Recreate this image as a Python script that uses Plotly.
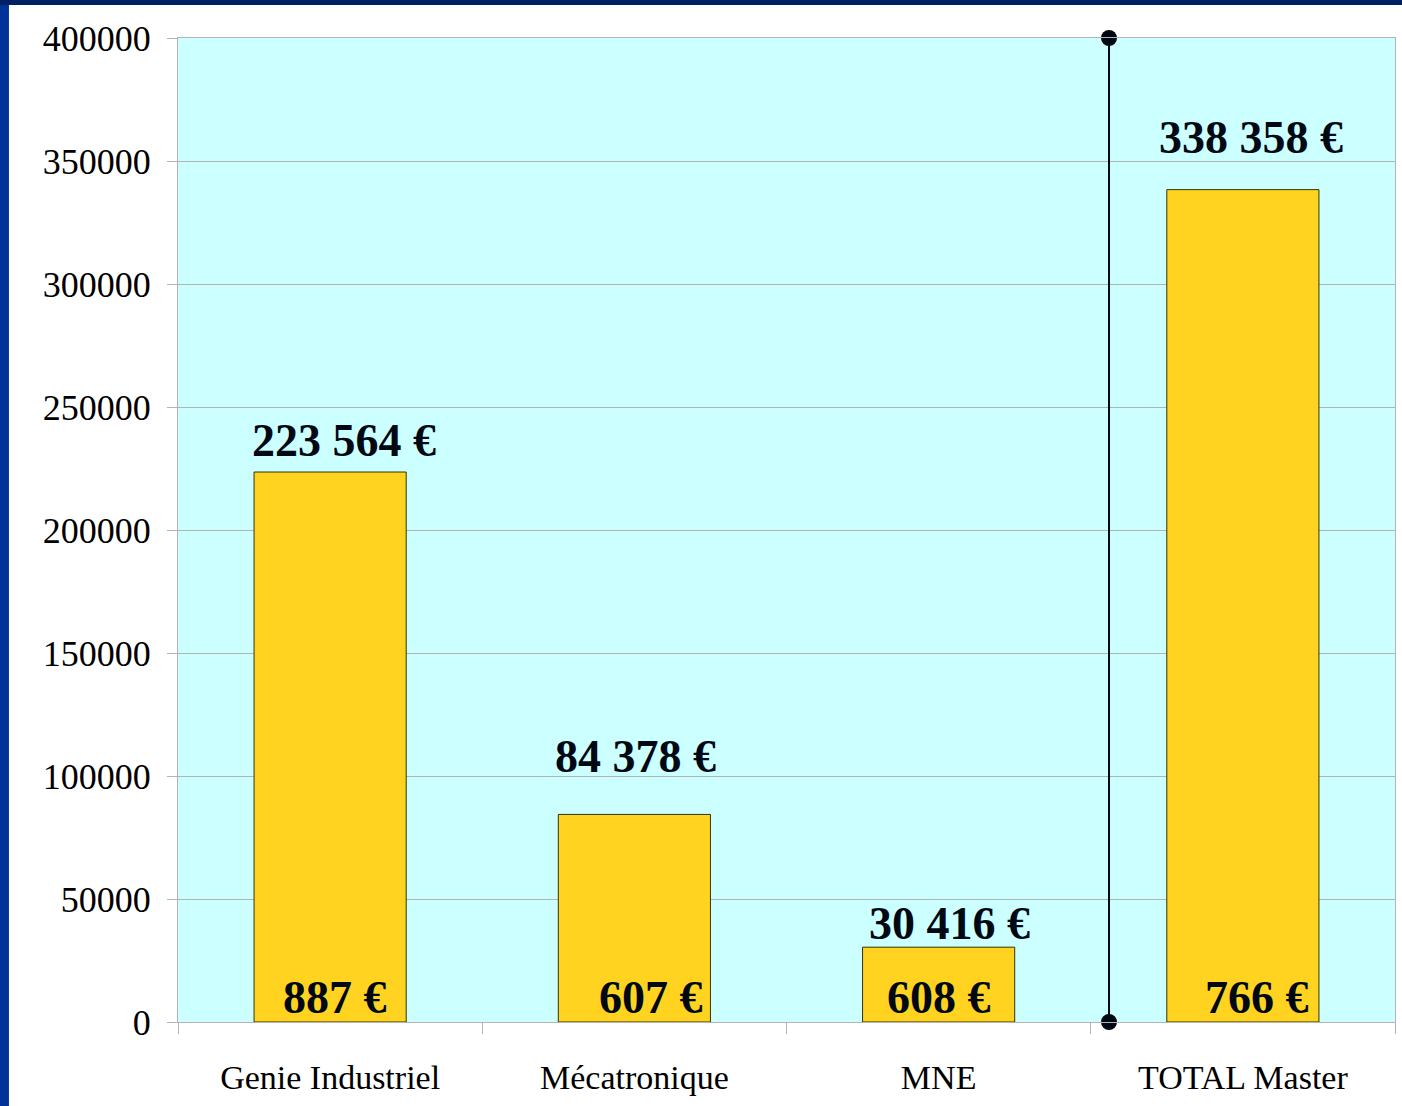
import plotly.graph_objects as go

categories = ["Genie Industriel", "Mécatronique", "MNE", "TOTAL Master"]
values = [223564, 84378, 30416, 338358]
top_labels = ["223 564 €", "84 378 €", "30 416 €", "338 358 €"]
bottom_labels = ["887 €", "607 €", "608 €", "766 €"]
y_ticks = [0, 50000, 100000, 150000, 200000, 250000, 300000, 350000, 400000]
separator_x = [2.56, 2.56]
separator_y = [0, 400000]

FONT = "Liberation Serif, Times New Roman, serif"
INK = "#000814"
top_label_shift = [(14, 4), (1, 30), (11, -4), (8, 25)]
bottom_label_shift = [5, 17, 0, 14]
LABEL_FONT = dict(family=FONT, size=46, color=INK, weight="bold")

fig = go.Figure()
fig.add_trace(go.Bar(
    x=categories, y=values, width=0.5,
    marker=dict(color="#FFD320", line=dict(color="#333300", width=1)),
    hoverinfo="skip", showlegend=False,
))
fig.add_trace(go.Scatter(
    x=separator_x, y=separator_y, xaxis="x2", mode="lines+markers",
    line=dict(color=INK, width=2), marker=dict(color=INK, size=16),
    cliponaxis=False, showlegend=False, hoverinfo="skip",
))

for c, v, lab, (dx, dy) in zip(categories, values, top_labels, top_label_shift):
    fig.add_annotation(x=c, y=v, text=lab, showarrow=False, yanchor="bottom",
                       yshift=dy, xshift=dx, font=LABEL_FONT)
for c, lab, dx in zip(categories, bottom_labels, bottom_label_shift):
    fig.add_annotation(x=c, y=0, text=lab, showarrow=False, yanchor="bottom",
                       yshift=-3, xshift=dx, font=LABEL_FONT)

# slide border (left and top blue bands)
fig.add_shape(type="rect", xref="paper", yref="paper", x0=-0.1465, x1=-0.1389,
              y0=-0.09, y1=1.04, fillcolor="#00339A", line_width=0, layer="above")
fig.add_shape(type="rect", xref="paper", yref="paper", x0=-0.1465, x1=1.01,
              y0=1.0335, y1=1.04, fillcolor="#002063", line_width=0, layer="above")

fig.update_layout(
    width=1402, height=1106,
    margin=dict(l=178, r=7, t=38, b=84),
    paper_bgcolor="white", plot_bgcolor="#CCFFFF",
    font=dict(family=FONT, size=35, color="black"),
    bargap=0.5,
    xaxis=dict(type="category", tickson="boundaries", ticks="outside", ticklen=11,
               tickcolor="#B3B3B3", showline=True, linecolor="#B3B3B3", linewidth=1,
               showgrid=False, ticklabelstandoff=25, mirror=True,
               tickfont=dict(family=FONT, size=34, color="black")),
    xaxis2=dict(overlaying="x", range=[-0.5, 3.5], visible=False),
    yaxis=dict(range=[0, 400000], tickvals=y_ticks, ticks="outside", ticklen=10,
               tickcolor="#B3B3B3", showline=True, linecolor="#B3B3B3", linewidth=1,
               mirror=True, showgrid=True, gridcolor="#B3B3B3", gridwidth=1,
               zeroline=False, ticklabelstandoff=9, tickformat="d",
               tickfont=dict(family=FONT, size=36, color="black")),
)

fig.write_html("out.html", config={"displayModeBar": False},
               post_script="document.body.style.margin='0';document.body.style.overflow='hidden';")
